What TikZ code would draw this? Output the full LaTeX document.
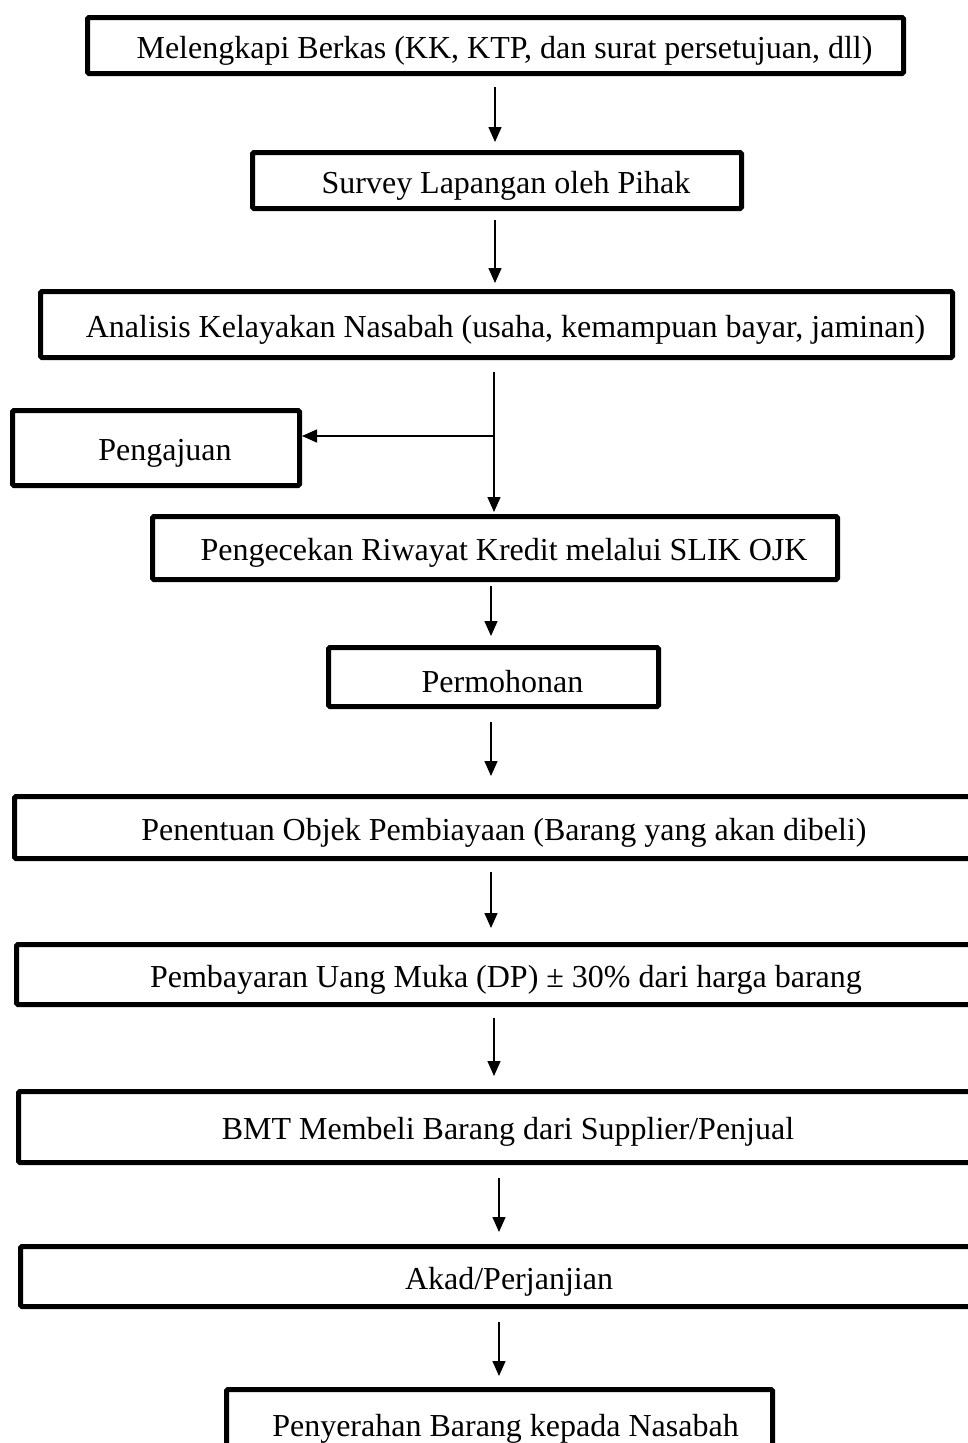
\documentclass[tikz,border=0pt]{standalone}
\usepackage{fontspec}
\setmainfont{Liberation Serif}
\usetikzlibrary{arrows.meta,calc}
\tikzset{
  stepbox/.style={draw=black, line width=5pt, rectangle, rounded corners=1.5pt, inner sep=0pt,
    font=\fontsize{32}{38}\selectfont, align=center},
  arr/.style={line width=1.5pt, -{Triangle[length=15pt,width=13pt]}},
  ln/.style={line width=1.5pt}
}
\newcommand{\sh}[2][18pt]{\hspace*{#1}\raisebox{-5pt}[\height][\depth]{#2}}
\begin{document}
\begin{tikzpicture}[x=1pt,y=-1pt]
\useasboundingbox (0,0) rectangle (968,1443);
\clip (0,0) rectangle (968,1443);
\node[stepbox, minimum width=816pt, minimum height=56pt] (b1) at (495.5,45.5) {\sh{Melengkapi Berkas (KK, KTP, dan surat persetujuan, dll)}};
\node[stepbox, minimum width=489pt, minimum height=56pt] (b2) at (497,180.5) {\sh{Survey Lapangan oleh Pihak}};
\node[stepbox, minimum width=912pt, minimum height=66pt] (b3) at (496.5,324.5) {\sh{Analisis Kelayakan Nasabah (usaha, kemampuan bayar, jaminan)}};
\node[stepbox, minimum width=287pt, minimum height=75pt] (b4) at (156,448) {\sh{Pengajuan}};
\node[stepbox, minimum width=685pt, minimum height=63pt] (b5) at (495,548) {\sh{Pengecekan Riwayat Kredit melalui SLIK OJK}};
\node[stepbox, minimum width=330pt, minimum height=59pt] (b6) at (493.5,677) {\sh{Permohonan}};
\node[stepbox, minimum width=973pt, minimum height=62pt] (b7) at (501,827.5) {\sh[6pt]{Penentuan Objek Pembiayaan (Barang yang akan dibeli)}};
\node[stepbox, minimum width=971pt, minimum height=60pt] (b8) at (502,974.5) {\sh[8pt]{Pembayaran Uang Muka (DP) ± 30\% dari harga barang}};
\node[stepbox, minimum width=969pt, minimum height=71pt] (b9) at (503,1127) {\sh[10pt]{BMT Membeli Barang dari Supplier/Penjual}};
\node[stepbox, minimum width=967pt, minimum height=60pt] (b10) at (504,1276.5) {\sh[10pt]{Akad/Perjanjian}};
\node[stepbox, minimum width=546pt, minimum height=68pt] (b11) at (499.5,1423.5) {\sh[12pt]{Penyerahan Barang kepada Nasabah}};
% arrows
\draw[arr, shorten <=11pt, shorten >=8pt] ([xshift=-0.5pt]b1.south) -- ([xshift=-0.5pt]b1.south |- b2.north);
\draw[arr, shorten <=9pt, shorten >=6pt] ([xshift=-2pt]b2.south) -- ([xshift=-2pt]b2.south |- b3.north);
\draw[arr, shorten <=12pt, shorten >=2pt] ([xshift=-2.5pt]b3.south) -- ([xshift=-2.5pt]b3.south |- b5.north);
\coordinate (j) at (494,436);
\draw[arr] (j) -- (j -| b4.east);
\draw[arr, shorten <=4pt, shorten >=9pt] ([xshift=-4pt]b5.south) -- ([xshift=-4pt]b5.south |- b6.north);
\draw[arr, shorten <=13pt, shorten >=18pt] ([xshift=-2.5pt]b6.south) -- ([xshift=-2.5pt]b6.south |- b7.north);
\draw[arr, shorten <=11pt, shorten >=14pt] ([xshift=-10pt]b7.south) -- ([xshift=-10pt]b7.south |- b8.north);
\draw[arr, shorten <=11pt, shorten >=13pt] ([xshift=-8pt]b8.south) -- ([xshift=-8pt]b8.south |- b9.north);
\draw[arr, shorten <=13pt, shorten >=12pt] ([xshift=-4pt]b9.south) -- ([xshift=-4pt]b9.south |- b10.north);
\draw[arr, shorten <=13pt, shorten >=11pt] ([xshift=-5pt]b10.south) -- ([xshift=-5pt]b10.south |- b11.north);
\end{tikzpicture}
\end{document}
